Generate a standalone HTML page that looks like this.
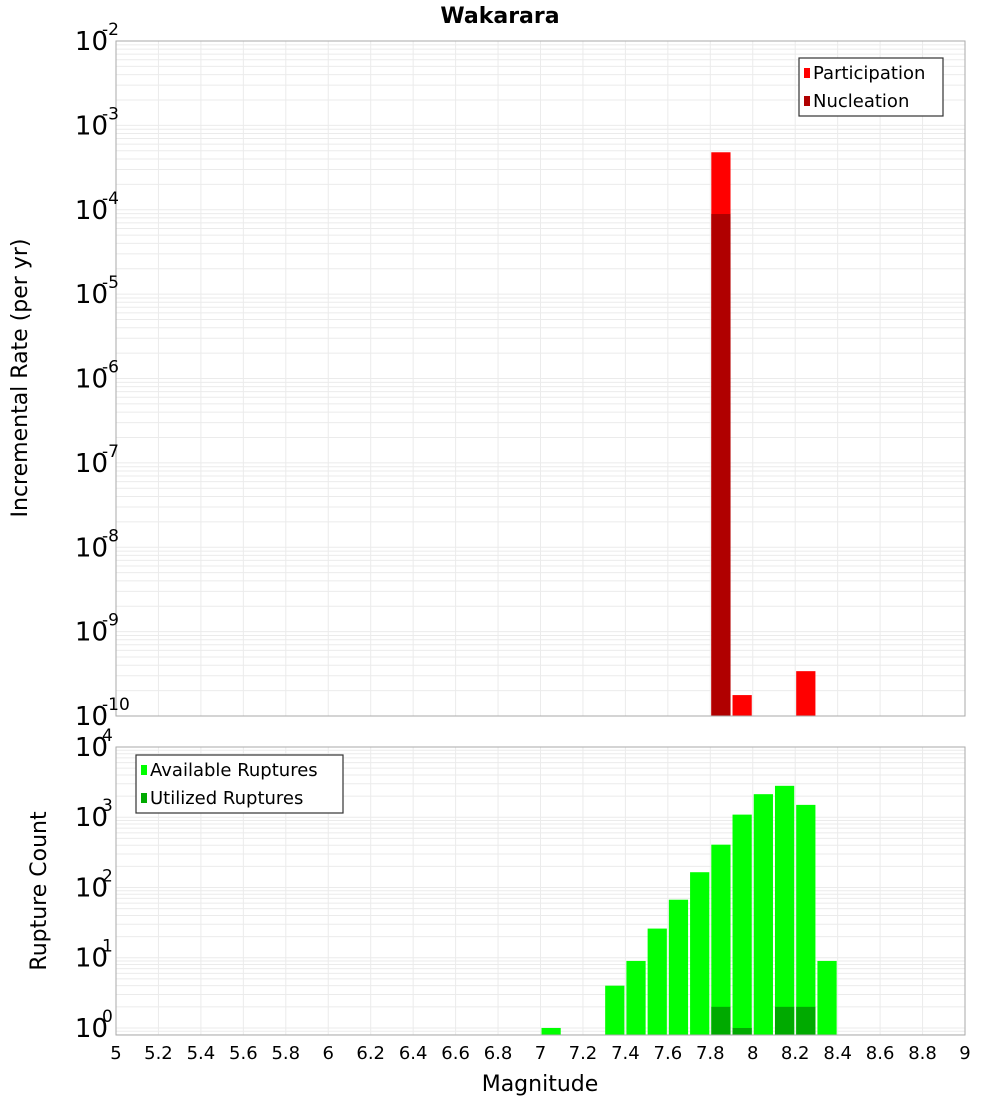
<!DOCTYPE html>
<html><head><meta charset="utf-8"><style>
body{margin:0;background:#fff}
svg text{font-family:"DejaVu Sans","Liberation Sans",sans-serif}
</style></head><body>
<svg id="chart" width="1000" height="1100" viewBox="0 0 1000 1100" xmlns="http://www.w3.org/2000/svg">
<text x="500" y="23" text-anchor="middle" font-size="22" font-weight="bold">Wakarara</text>
<g id="top"></g><g id="bot"></g>
<text x="540" y="1091" text-anchor="middle" font-size="22">Magnitude</text>
<text transform="translate(27,378) rotate(-90)" text-anchor="middle" font-size="22">Incremental Rate (per yr)</text>
<text transform="translate(46,891) rotate(-90)" text-anchor="middle" font-size="22">Rupture Count</text>
</svg>
<script>
const partMags=[7.8,7.9,8.2];
const partVals=[4.8e-4,1.77e-10,3.4e-10];
const nuclMags=[7.8];
const nuclVals=[8.9e-5];
const availMags=[7.0,7.3,7.4,7.5,7.6,7.7,7.8,7.9,8.0,8.1,8.2,8.3];
const availVals=[1,4,9,26,67,165,407,1090,2130,2800,1500,9];
const usedMags=[7.8,7.9,8.1,8.2];
const usedVals=[2,1,2,2];
const xTicks=[5,5.2,5.4,5.6,5.8,6,6.2,6.4,6.6,6.8,7,7.2,7.4,7.6,7.8,8,8.2,8.4,8.6,8.8,9];
const topExps=[-2,-3,-4,-5,-6,-7,-8,-9,-10];
const botExps=[4,3,2,1,0];

const NS="http://www.w3.org/2000/svg";
const X0=116,X1=965,xmin=5,xmax=9;
const xs=m=>X0+(m-xmin)/(xmax-xmin)*(X1-X0);
function el(p,tag,attrs){const e=document.createElementNS(NS,tag);for(const k in attrs)e.setAttribute(k,attrs[k]);p.appendChild(e);return e;}
function panel(g,T,B,lmin,lmax,name){
  const ys=v=>B-(Math.log10(v)-lmin)/(lmax-lmin)*(B-T);
  const grid=el(g,'g',{});
  
  
  for(let d=Math.floor(lmin);d<lmax;d++){for(let k=1;k<10;k++){const v=k*Math.pow(10,d);const lv=Math.log10(v);if(lv<lmin||lv>lmax)continue;const y=ys(v);el(grid,'line',{x1:X0,x2:X1,y1:y,y2:y,stroke:'#ebebeb','stroke-width':1});}}
  xTicks.forEach(m=>{const x=xs(m);el(grid,'line',{x1:x,x2:x,y1:T,y2:B,stroke:'#ebebeb','stroke-width':1});});
  return ys;
}
function bars(g,mags,vals,ys,B,color,name){
  mags.forEach((m,i)=>{const x=xs(m)+1,w=xs(m+0.1)-xs(m)-2;const y=ys(vals[i]);
    const r=el(g,'rect',{x:x,y:y,width:w,height:B-y,fill:color});
    
    });
}
function yLabel(g,y,e,name){
  const t=el(g,'text',{x:108,y:y+9,'text-anchor':'end','font-size':26});
  
  
  t.textContent='10';
  const s=el(g,'text',{x:102,y:y-6,'font-size':17});
  
  
  s.textContent=String(e);
}
function legend(g,x,y,w,items,name){
  const lg=el(g,'g',{});
  
  
  el(lg,'rect',{x:x,y:y,width:w,height:58,fill:'#fff',stroke:'#333','stroke-width':1.2});
  items.forEach((it,i)=>{el(lg,'rect',{x:x+5,y:y+10+i*28,width:6,height:10,fill:it[1]});
    const t=el(lg,'text',{x:x+14,y:y+21+i*28,'font-size':18});t.textContent=it[0];});
}
// top
const gt=document.getElementById('top');
const T1=41,B1=716;
const yt=panel(gt,T1,B1,-10,-2,'top-panel');
bars(gt,partMags,partVals,yt,B1,'#ff0000','participation-bar');
bars(gt,nuclMags,nuclVals,yt,B1,'#b00000','nucleation-bar');
el(gt,'rect',{x:X0,y:T1,width:X1-X0,height:B1-T1,fill:'none',stroke:'#aaa'});
topExps.forEach(e=>yLabel(gt,yt(Math.pow(10,e)),e,'top-y-tick-'+e));
legend(gt,799,58,144,[['Participation','#ff0000'],['Nucleation','#b00000']],'top-legend');
// bottom
const gb=document.getElementById('bot');
const T2=747,B2=1035;
const lmin2=-0.1,lmax2=4;
const yb=panel(gb,T2,B2,lmin2,lmax2,'bottom-panel');
bars(gb,availMags,availVals,yb,B2,'#00ff00','available-bar');
bars(gb,usedMags,usedVals,yb,B2,'#00aa00','utilized-bar');
el(gb,'rect',{x:X0,y:T2,width:X1-X0,height:B2-T2,fill:'none',stroke:'#aaa'});
botExps.forEach(e=>yLabel(gb,yb(Math.pow(10,e)),e,'bottom-y-tick-'+e));
legend(gb,136,755,207,[['Available Ruptures','#00ff00'],['Utilized Ruptures','#00aa00']],'bottom-legend');
xTicks.forEach(m=>{const t=el(gb,'text',{x:xs(m),y:1059,'text-anchor':'middle','font-size':18});
  
  
  t.textContent=String(m);});
</script>
</body></html>
